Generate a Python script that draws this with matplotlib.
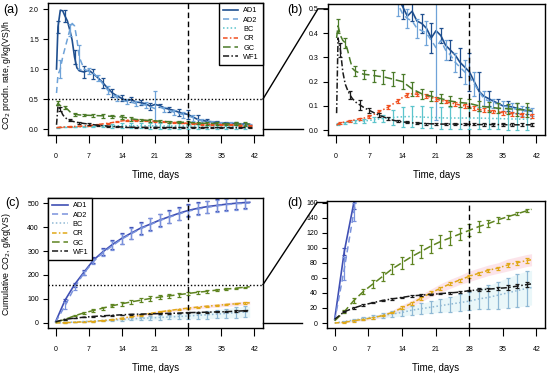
import numpy as np
import matplotlib
matplotlib.use('Agg')
import matplotlib.pyplot as plt
from matplotlib.lines import Line2D

plt.rcParams['font.family'] = ['Liberation Sans', 'DejaVu Sans']

# --- rate data, g/kg(VS)/h ---
t_rate = [0.2, 0.5, 1, 1.5, 2, 2.5, 3, 3.5, 4, 4.5, 5] + list(range(6, 42))

rate_ad1 = [1.00, 1.70, 1.98, 1.97, 1.88, 1.80, 1.65, 1.48, 1.20, 1.02, 0.97,
            0.95, 0.98, 0.92, 0.85, 0.77, 0.68, 0.60, 0.55, 0.51, 0.47, 0.49, 0.45, 0.44, 0.42, 0.38,
            0.41, 0.39, 0.35, 0.33, 0.31, 0.28, 0.26, 0.24, 0.20, 0.16, 0.14,
            0.13, 0.12, 0.11, 0.10, 0.10, 0.095, 0.09, 0.085, 0.08, 0.078]
rate_ad2 = [0.60, 0.90, 1.00, 1.20, 1.35, 1.50, 1.65, 1.76, 1.72, 1.50, 1.20,
            1.00, 0.96, 0.93, 0.85, 0.75, 0.65, 0.58, 0.52, 0.48, 0.46, 0.45, 0.42, 0.41, 0.40, 0.37,
            0.34, 0.37, 0.33, 0.31, 0.28, 0.26, 0.24, 0.22, 0.19, 0.16, 0.13,
            0.12, 0.11, 0.11, 0.10, 0.095, 0.09, 0.085, 0.08, 0.078, 0.075]
rate_bc = [0.020, 0.025, 0.028, 0.030, 0.030, 0.032, 0.033, 0.034, 0.035, 0.036, 0.037,
           0.038, 0.040, 0.043, 0.046, 0.048, 0.050, 0.052, 0.054, 0.055, 0.056, 0.056, 0.055, 0.054, 0.053, 0.052,
           0.052, 0.051, 0.050, 0.050, 0.050, 0.050, 0.050, 0.050, 0.050, 0.050, 0.049,
           0.049, 0.048, 0.048, 0.047, 0.047, 0.046, 0.046, 0.045, 0.045, 0.045]
rate_cr = [0.020, 0.025, 0.030, 0.032, 0.034, 0.036, 0.038, 0.040, 0.042, 0.045, 0.047,
           0.050, 0.056, 0.065, 0.075, 0.085, 0.095, 0.108, 0.120, 0.135, 0.145, 0.150, 0.148, 0.145, 0.140, 0.135,
           0.128, 0.123, 0.118, 0.113, 0.108, 0.104, 0.100, 0.095, 0.090, 0.085, 0.082,
           0.080, 0.077, 0.075, 0.072, 0.070, 0.068, 0.066, 0.064, 0.062, 0.060]
rate_gc = [0.38, 0.43, 0.39, 0.37, 0.36, 0.33, 0.29, 0.255, 0.245, 0.24, 0.235,
           0.230, 0.228, 0.225, 0.222, 0.220, 0.215, 0.210, 0.205, 0.200, 0.185, 0.170, 0.160, 0.150, 0.145, 0.140,
           0.135, 0.130, 0.125, 0.120, 0.117, 0.114, 0.112, 0.110, 0.105, 0.100, 0.097,
           0.095, 0.093, 0.090, 0.090, 0.088, 0.087, 0.085, 0.084, 0.083, 0.082]
rate_wf1 = [0.07, 0.38, 0.33, 0.24, 0.19, 0.165, 0.145, 0.13, 0.12, 0.11, 0.105,
            0.092, 0.082, 0.072, 0.062, 0.055, 0.047, 0.041, 0.037, 0.034, 0.032, 0.030, 0.029, 0.028, 0.027, 0.026,
            0.026, 0.025, 0.025, 0.025, 0.025, 0.024, 0.024, 0.024, 0.024, 0.023, 0.023,
            0.023, 0.023, 0.023, 0.023, 0.022, 0.022, 0.022, 0.022, 0.022, 0.022]

# error bars on the rate curves (two sets of days so bars don't sit on top of each other)
err_days_even = [0.5] + list(range(2, 41, 2))
err_days_odd = list(range(1, 42, 2))
sd_rate_ad1 = [0.10, 0.10, 0.12, 0.10, 0.08, 0.08, 0.06, 0.05, 0.04, 0.04, 0.06,
               0.03, 0.04, 0.06, 0.08, 0.08, 0.03, 0.02, 0.02, 0.02, 0.015]
sd_rate_ad2 = [0.15, 0.10, 0.20, 0.05, 0.05, 0.06, 0.05, 0.04, 0.04, 0.05, 0.30,
               0.04, 0.04, 0.05, 0.05, 0.03, 0.02, 0.02, 0.02, 0.02, 0.015]
sd_rate_bc = [0.003, 0.003, 0.005, 0.008, 0.010, 0.015, 0.030, 0.040, 0.045, 0.045, 0.045,
              0.045, 0.045, 0.045, 0.045, 0.045, 0.045, 0.045, 0.045, 0.045, 0.045]
sd_rate_cr = [0.004, 0.005, 0.005, 0.006, 0.006, 0.008, 0.008, 0.008, 0.008, 0.008, 0.008,
              0.008, 0.008, 0.008, 0.008, 0.008, 0.008, 0.008, 0.008, 0.008, 0.008]
sd_rate_gc = [0.03, 0.02, 0.02, 0.02, 0.025, 0.03, 0.03, 0.03, 0.03, 0.02, 0.02,
              0.02, 0.02, 0.02, 0.02, 0.02, 0.02, 0.02, 0.02, 0.025, 0.03]
sd_rate_wf1 = [0.03, 0.015, 0.02, 0.01, 0.008, 0.006, 0.005, 0.004, 0.004, 0.004, 0.004,
               0.004, 0.004, 0.004, 0.004, 0.006, 0.006, 0.006, 0.006, 0.006, 0.006]

# --- cumulative data, g/kg(VS) ---
t_cum = list(range(0, 41, 2)) + [41]
cum_ad1 = [5, 95, 160, 212, 262, 297, 327, 353, 375, 396, 412, 429, 443, 457, 469, 478, 485, 490, 495, 499, 502, 503]
cum_ad2 = [3, 72, 148, 208, 256, 293, 322, 350, 372, 393, 410, 427, 441, 454, 466, 475, 482, 488, 493, 497, 499, 500]
cum_bc = [0, 2, 4, 6, 8, 10, 12, 14, 17, 19, 21, 23, 25, 27, 29, 32, 34, 37, 40, 43, 46, 47]
cum_cr = [0, 1, 3, 5, 7, 10, 14, 20, 26, 33, 40, 46, 52, 57, 62, 66, 70, 73, 77, 80, 83, 84]
cum_gc = [3, 15, 30, 42, 52, 62, 72, 80, 88, 95, 102, 108, 113, 118, 123, 128, 132, 137, 141, 145, 149, 151]
cum_wf1 = [5, 15, 20, 24, 27, 30, 32, 34, 36, 37, 38, 39, 40, 41, 43, 44, 45, 46, 47, 49, 51, 52]
band_cr = [0, 1, 1, 2, 2, 3, 3, 4, 4, 5, 5, 6, 6, 6, 7, 7, 7, 7, 8, 8, 8, 8]

err_days_cum = list(range(2, 41, 2))
sd_cum_ad1 = [5, 8, 10, 12, 15, 18, 22, 24, 25, 26, 26, 26, 26, 25, 25, 25, 25, 25, 25, 24]
sd_cum_ad2 = [15, 12, 10, 12, 15, 18, 22, 24, 25, 26, 26, 26, 26, 25, 25, 25, 25, 25, 25, 24]
sd_cum_bc = [1, 1, 2, 2, 3, 4, 5, 6, 7, 8, 9, 10, 11, 12, 14, 16, 18, 20, 22, 23]
sd_cum_cr = [1, 1, 1, 1, 1, 1, 2, 2, 2, 2, 2, 2, 2, 2, 2, 2, 2, 3, 3, 3]
sd_cum_gc = [2, 3, 3, 5, 6, 7, 8, 9, 9, 9, 9, 9, 8, 8, 7, 5, 4, 3, 2, 2]
sd_cum_wf1 = [1, 1, 1, 1, 1, 1, 1, 1, 1, 1, 1, 1, 1, 1, 2, 2, 2, 3, 3, 3]

labels = ['AD1', 'AD2', 'BC', 'CR', 'GC', 'WF1']
styles = ['-', (0, (4, 2.5)), (0, (1, 1.5)), (0, (3, 1.5, 1, 1.5)), (0, (5, 2.5)), (0, (4, 1.5, 1, 1.5))]
widths = [1.2, 1.1, 1.1, 1.1, 1.1, 1.1]
colors_rate = ['#1f4f8f', '#6fa3d8', '#5cc4cc', '#f05020', '#4a7a28', '#1a1a1a']
colors_cum = ['#3f4fb4', '#7a92dc', '#8fb8d4', '#e0a818', '#5e8420', '#1a1a1a']
err_rate = [err_days_even, err_days_odd, err_days_even, err_days_odd, err_days_even, err_days_odd]

rate_series = [rate_ad1, rate_ad2, rate_bc, rate_cr, rate_gc, rate_wf1]
rate_sd = [sd_rate_ad1, sd_rate_ad2, sd_rate_bc, sd_rate_cr, sd_rate_gc, sd_rate_wf1]
cum_series = [cum_ad1, cum_ad2, cum_bc, cum_cr, cum_gc, cum_wf1]
cum_sd = [sd_cum_ad1, sd_cum_ad2, sd_cum_bc, sd_cum_cr, sd_cum_gc, sd_cum_wf1]

W, H = 550, 376
fig = plt.figure(figsize=(W / 100, H / 100), dpi=100)


def px_axes(l, t, r, b):
    return fig.add_axes([l / W, 1 - b / H, (r - l) / W, (b - t) / H])


ax_a = px_axes(48, 3, 263, 135)
ax_b = px_axes(328, 4, 545, 135)
ax_c = px_axes(48, 198, 263, 328)
ax_d = px_axes(327, 201, 545, 328)


def draw_rate(ax):
    for y, sd, days, c, ls, lw in zip(rate_series, rate_sd, err_rate, colors_rate, styles, widths):
        ax.plot(t_rate, y, color=c, ls=ls, lw=lw)
        ye = [y[t_rate.index(d)] for d in days]
        ax.errorbar(days, ye, yerr=sd, fmt='none', ecolor=c, elinewidth=0.9,
                    capsize=1.6, capthick=0.9)


def draw_cum(ax):
    ax.fill_between(t_cum, np.array(cum_cr) - band_cr, np.array(cum_cr) + band_cr,
                    color='#fbd3dc', alpha=0.6, lw=0)
    bc_sd_full = [0] + sd_cum_bc + [sd_cum_bc[-1]]
    ax.fill_between(t_cum, np.array(cum_bc) - bc_sd_full, np.array(cum_bc) + bc_sd_full,
                    color='#d6f0f5', alpha=0.5, lw=0)
    for y, sd, c, ls, lw in zip(cum_series, cum_sd, colors_cum, styles, widths):
        ax.plot(t_cum, y, color=c, ls=ls, lw=lw)
        ye = [y[t_cum.index(d)] for d in err_days_cum]
        ax.errorbar(err_days_cum, ye, yerr=sd, fmt='none', ecolor=c, elinewidth=0.9,
                    capsize=1.6, capthick=0.9)


def style(ax, ylim, yticks, yfmt):
    ax.set_xlim(-1.6, 43.8)
    ax.set_ylim(*ylim)
    ax.set_xticks(range(0, 43, 7))
    ax.set_yticks(yticks)
    ax.set_yticklabels([yfmt.format(v) for v in yticks])
    ax.tick_params(axis='x', length=6, width=0.8, pad=7, labelsize=5)
    ax.tick_params(axis='y', length=3.5, width=0.8, pad=3, labelsize=5)
    for s in ax.spines.values():
        s.set_linewidth(1.0)
    ax.axvline(28, color='black', ls=(0, (4, 2.5)), lw=1.0)
    ax.set_xlabel('Time, days', fontsize=7, labelpad=7)


draw_rate(ax_a)
draw_rate(ax_b)
draw_cum(ax_c)
draw_cum(ax_d)

style(ax_a, (-0.1, 2.1), [0, 0.5, 1.0, 1.5, 2.0], '{:.1f}')
style(ax_b, (-0.02, 0.52), [0, 0.1, 0.2, 0.3, 0.4, 0.5], '{:.1f}')
style(ax_c, (-21, 521), [0, 100, 200, 300, 400, 500], '{:.0f}')
style(ax_d, (-6.6, 162), list(range(0, 161, 20)), '{:.0f}')

ax_a.set_ylabel('CO$_2$ prodn. rate, g/kg(VS)/h', fontsize=6.3)
ax_a.yaxis.set_label_coords(-0.165, 0.45)
ax_c.set_ylabel('Cumulative CO$_2$, g/kg(VS)', fontsize=6.3)
ax_c.yaxis.set_label_coords(-0.165, 0.49)

# zoom guides
ax_a.axhline(0.5, color='black', ls=(0, (1, 1.5)), lw=1.0)
ax_c.axhline(160, color='black', ls=(0, (1, 1.5)), lw=1.0)


def fig_pt(ax, x, y):
    return fig.transFigure.inverted().transform(ax.transData.transform((x, y)))


for src, dst, top, gap_top, gap_bot in [(ax_a, ax_b, 0.5, 10, 25), (ax_c, ax_d, 160, 10, 25)]:
    xr = src.get_xlim()[1]
    xl = dst.get_xlim()[0]
    p1 = fig_pt(src, xr, top)
    p3 = fig_pt(dst, xl, top)
    p2 = (p3[0] - gap_top / W, p3[1])
    fig.add_artist(Line2D([p1[0], p2[0], p3[0]], [p1[1], p2[1], p3[1]], color='black', lw=1.0))
    q1 = fig_pt(src, xr, 0)
    q2 = fig_pt(dst, xl, 0)
    fig.add_artist(Line2D([q1[0], q2[0] - gap_bot / W], [q1[1], q1[1]], color='black', lw=1.0))

# legends
h_rate = [Line2D([], [], color=c, ls=ls, lw=lw) for c, ls, lw in zip(colors_rate, styles, widths)]
h_cum = [Line2D([], [], color=c, ls=ls, lw=lw) for c, ls, lw in zip(colors_cum, styles, widths)]
for ax, hs, loc in [(ax_a, h_rate, 'upper right'), (ax_c, h_cum, 'upper left')]:
    leg = ax.legend(hs, labels, loc=loc, fontsize=5.3, borderaxespad=0, fancybox=False,
                    handlelength=2.1, labelspacing=0.3, borderpad=0.55, handletextpad=0.7)
    leg.get_frame().set_edgecolor('black')
    leg.get_frame().set_linewidth(1.0)
    leg.get_frame().set_alpha(1)

for x, y, s in [(3, 10, '(a)'), (287, 10, '(b)'), (5, 203, '(c)'), (287, 203, '(d)')]:
    fig.text(x / W, 1 - y / H, s, fontsize=9, va='center', ha='left')

fig.savefig('out.png', dpi=100)
